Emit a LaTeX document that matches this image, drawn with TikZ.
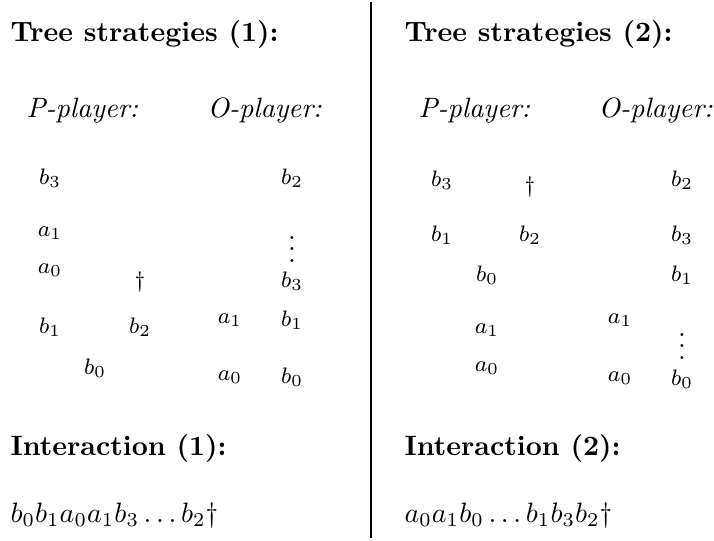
\documentclass[tikz,border=0pt]{standalone}
\usetikzlibrary{positioning}
\tikzset{
  every picture/.style={x=0.357pt, y=-0.357pt},
  heading/.style={font=\bfseries, anchor=base west, inner sep=0pt},
  player/.style={font=\itshape, anchor=base west, inner sep=0pt},
  mv/.style={font=\footnotesize, inner sep=1pt},
  dots/.style={inner sep=0pt, anchor=base},
  play/.style={anchor=base west, inner sep=0pt},
}

\begin{document}
\begin{tikzpicture}
  \useasboundingbox (0,0) rectangle (714,540);
  % divider
  \coordinate (top) at (371,2);
  \coordinate (bot) at (371,538);
  \draw[line width=0.4pt] (top) -- (bot);
  % left column
  \node[heading] (t1) at (10,41) {Tree strategies (1):};
  \node[player] (p1) at (26,117) {P-player:};
  \node[player] (o1) at (207,117) {O-player:};
  \foreach \n/\t/\x/\y in {pb3/b_3/50/178, pa1/a_1/50/233, pa0/a_0/50/270, pd/\dagger/140/282,
      pb1/b_1/50/327, pb2/b_2/140/327, pb0/b_0/95/368}
    \node[mv] (l\n) at (\x,\y) {$\t$};
  \foreach \n/\t/\x/\y in {ob2/b_2/292/178, ob3/b_3/292/281, oa1/a_1/230/320,
      ob1/b_1/292/320, oa0/a_0/230/377, ob0/b_0/292/377}
    \node[mv] (l\n) at (\x,\y) {$\t$};
  \node[dots] (lov) at (292,262) {$\vdots$};
  \node[heading] (i1) at (10,455) {Interaction (1):};
  \node[play] (s1) at (10,522) {$b_0b_1a_0a_1b_3\ldots b_2\dagger$};
  % right column
  \node[heading] (t2) at (404,41) {Tree strategies (2):};
  \node[player] (p2) at (418,117) {P-player:};
  \node[player] (o2) at (598,117) {O-player:};
  \foreach \n/\t/\x/\y in {pb3/b_3/442/180, pd/\dagger/530/187, pb1/b_1/442/235, pb2/b_2/530/235,
      pb0/b_0/487/275, pa1/a_1/487/330, pa0/a_0/487/368}
    \node[mv] (r\n) at (\x,\y) {$\t$};
  \foreach \n/\t/\x/\y in {ob2/b_2/682/180, ob3/b_3/682/235, ob1/b_1/682/275, oa1/a_1/620/320,
      oa0/a_0/620/378, ob0/b_0/682/379}
    \node[mv] (r\n) at (\x,\y) {$\t$};
  \node[dots] (rov) at (682,359) {$\vdots$};
  \node[heading] (i2) at (404,455) {Interaction (2):};
  \node[play] (s2) at (404,522) {$a_0a_1b_0\ldots b_1b_3b_2\dagger$};
\end{tikzpicture}
\end{document}
